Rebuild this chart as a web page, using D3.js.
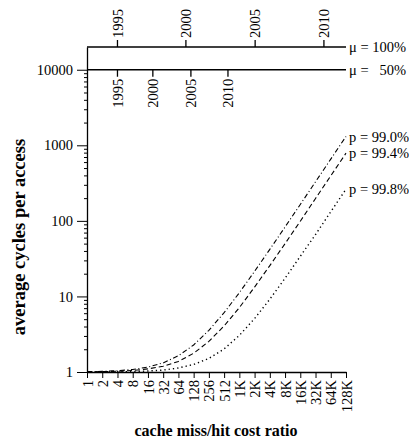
<!DOCTYPE html>
<html>
<head>
<meta charset="utf-8">
<script src="https://cdn.jsdelivr.net/npm/d3@7"></script>
<style>
  body { margin: 0; background: #fff; }
  text { font-family: "Liberation Serif", "Times New Roman", serif; fill: #000; }
</style>
</head>
<body>
<script>
const canvWidth = 409, canvHeight = 441;
const margin = {top: 47, right: 63, bottom: 69, left: 87};
const width = canvWidth - margin.left - margin.right;
const height = canvHeight - margin.top - margin.bottom;
const fontSize = "14.5px";

// x categories: cache miss/hit cost ratio
const ratios = [1, 2, 4, 8, 16, 32, 64, 128, 256, 512, 1024, 2048, 4096, 8192, 16384, 32768, 65536, 131072];
const ratioLabels = ["1", "2", "4", "8", "16", "32", "64", "128", "256", "512", "1K", "2K", "4K", "8K", "16K", "32K", "64K", "128K"];

// average cycles per access
const p990 = [1.01, 1.02, 1.04, 1.08, 1.16, 1.32, 1.64, 2.28, 3.56, 6.1, 11.2, 21.5, 42, 83, 165, 329, 656, 1310];
const p994 = [1.006, 1.012, 1.024, 1.05, 1.1, 1.19, 1.38, 1.77, 2.54, 4.07, 7.1, 13.3, 25.6, 50, 99, 198, 394, 787];
const p998 = [1.002, 1.004, 1.008, 1.016, 1.03, 1.06, 1.13, 1.26, 1.51, 2.02, 3.05, 5.1, 9.2, 17.4, 34, 66, 132, 263];

const seriesNames = ["p = 99.0%", "p = 99.4%", "p = 99.8%"];
const seriesDash = ["5,2.5,1,2.5", "5,3", "1.3,3"];
const seriesWidth = [1.1, 1.1, 1.4];

// year scales drawn on the mu lines
const muValues = [20000, 10000];
const muLabels = ["\u03bc = 100%", "\u03bc = \u200750%"];
const years = ["1995", "2000", "2005", "2010"];
const yearRatios100 = [4, 90, 2100, 48000];
const yearRatios50 = [4, 20, 113, 610];

const yMajor = [1, 10, 100, 1000, 10000];

const svg = d3.select("body").append("svg")
    .attr("width", canvWidth)
    .attr("height", canvHeight);

const chart = svg.append("g")
    .attr("transform", `translate(${margin.left},${margin.top})`);

const xScale = d3.scaleLog().base(2).domain([1, 131072]).range([0, width]);
const yScale = d3.scaleLog().domain([1, 20000]).range([height, 0]);

// minor y ticks
let yMinor = [];
[1, 10, 100, 1000].forEach(dec => {
    for (let k = 2; k <= 9; k++) yMinor.push(dec * k);
});

chart.append("g")
    .call(d3.axisLeft(yScale).tickValues(yMinor).tickSize(3).tickFormat(""))
    .call(g => g.select(".domain").remove())
    .selectAll("line").attr("stroke-width", 1);

const yAxis = chart.append("g")
    .call(d3.axisLeft(yScale).tickValues(yMajor).tickSize(10).tickSizeOuter(0)
        .tickFormat(d3.format("d")));
yAxis.select(".domain").attr("stroke-width", 1.3);
yAxis.selectAll("text")
    .attr("font-size", fontSize)
    .attr("x", -14)
    .style("font-family", "'Liberation Serif', serif");

const xAxis = chart.append("g")
    .attr("transform", `translate(0,${height})`)
    .call(d3.axisBottom(xScale).tickValues(ratios).tickSize(6).tickSizeOuter(0)
        .tickFormat((d, i) => ratioLabels[i]));
xAxis.select(".domain").attr("stroke-width", 1.3);
xAxis.selectAll("text")
    .attr("font-size", fontSize)
    .attr("transform", "rotate(-90)")
    .attr("x", -8)
    .attr("y", 0)
    .attr("dy", "0.35em")
    .style("text-anchor", "end")
    .style("font-family", "'Liberation Serif', serif");

// mu lines with year ticks
muValues.forEach((m, j) => {
    const yPos = yScale(m);
    chart.append("line")
        .attr("x1", 0).attr("x2", width)
        .attr("y1", yPos).attr("y2", yPos)
        .attr("stroke", "#000").attr("stroke-width", 1.3);

    chart.append("text")
        .attr("x", width + 3).attr("y", yPos).attr("dy", "0.35em")
        .attr("font-size", fontSize)
        .text(muLabels[j]);

    const yr = j === 0 ? yearRatios100 : yearRatios50;
    const dir = j === 0 ? -1 : 1;
    const g = chart.append("g");
    g.selectAll("line")
        .data(yr)
        .enter().append("line")
        .attr("x1", d => xScale(d)).attr("x2", d => xScale(d))
        .attr("y1", yPos).attr("y2", yPos + dir * 7)
        .attr("stroke", "#000").attr("stroke-width", 1.3);
    g.selectAll("text")
        .data(yr)
        .enter().append("text")
        .attr("transform", d => `translate(${xScale(d)},${yPos + dir * 9}) rotate(-90)`)
        .attr("dy", "0.35em")
        .attr("font-size", fontSize)
        .style("text-anchor", j === 0 ? "start" : "end")
        .text((d, i) => years[i]);
});

// curves
const line = d3.line()
    .x((d, i) => xScale(ratios[i]))
    .y(d => yScale(d));

[p990, p994, p998].forEach((s, k) => {
    chart.append("path")
        .datum(s)
        .attr("fill", "none")
        .attr("stroke", "#000")
        .attr("stroke-width", seriesWidth[k])
        .attr("stroke-dasharray", seriesDash[k])
        .attr("d", line);

    chart.append("text")
        .attr("x", width + 3)
        .attr("y", yScale(s[s.length - 1]))
        .attr("dy", "0.35em")
        .attr("font-size", fontSize)
        .text(seriesNames[k]);
});

// axis titles
svg.append("text")
    .attr("transform", "translate(25,237) rotate(-90)")
    .attr("font-size", "18.5px")
    .attr("font-weight", "bold")
    .style("text-anchor", "middle")
    .text("average cycles per access");

svg.append("text")
    .attr("x", 216)
    .attr("y", 436)
    .attr("font-size", "16px")
    .attr("font-weight", "bold")
    .style("text-anchor", "middle")
    .text("cache miss/hit cost ratio");
</script>
</body>
</html>
